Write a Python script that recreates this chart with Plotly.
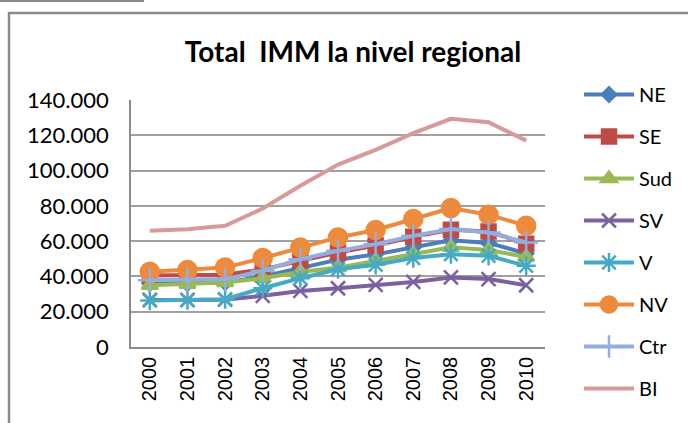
import plotly.graph_objects as go

# Data ---
years = [2000, 2001, 2002, 2003, 2004, 2005, 2006, 2007, 2008, 2009, 2010]
regions = ["NE", "SE", "Sud", "SV", "V", "NV", "Ctr", "BI"]

ne = [36000, 36000, 36500, 40000, 45000, 49500, 52500, 56500, 60500, 59000, 53000]
se = [40500, 40500, 41000, 44000, 49000, 53500, 57500, 62500, 66500, 65500, 58500]
sud = [35000, 35500, 36500, 39000, 42500, 45000, 49000, 52800, 56500, 55000, 51000]
sv = [26700, 26700, 26800, 29000, 31800, 33300, 35200, 36900, 39400, 38500, 35000]
v = [26300, 26500, 27100, 33300, 39000, 44100, 46600, 50400, 52600, 51700, 46000]
nv = [42600, 43600, 45000, 50400, 56400, 62100, 66300, 72500, 78800, 75000, 68700]
ctr = [37900, 38000, 38500, 43200, 49800, 54500, 58300, 63000, 66900, 64900, 59200]
bi = [65900, 66800, 68700, 78500, 91400, 103400, 111700, 121200, 129300, 127400, 117000]
series = [ne, se, sud, sv, v, nv, ctr, bi]

y_ticks = [0, 20000, 40000, 60000, 80000, 100000, 120000, 140000]

# Styles ---
colors = ["#4A7EBB", "#BE4B48", "#98B954", "#7D60A0", "#46AAC5", "#EE8A3C", "#93AEDC", "#D79A98"]
symbols = ["diamond", "square", "triangle-up", "x-thin-open", "asterisk-open",
           "circle", "cross-thin-open", None]
sizes = [11, 14, 14, 14, 16, 18, 17, 0]

W, H = 688, 423
L, R, T, B = 131, 545, 100, 347


def px(x):
    return (x - L) / (R - L)


def py(y):
    return (B - y) / (B - T)


fig = go.Figure()
for name, vals, col, sym, sz in zip(regions, series, colors, symbols, sizes):
    marker = dict(color=col, size=sz, symbol=sym, line=dict(color=col, width=2.5))
    fig.add_trace(go.Scatter(
        x=years, y=vals, name=name, legendgroup=name,
        mode="lines+markers" if sym else "lines",
        line=dict(color=col, width=4),
        marker=marker if sym else None,
    ))

fig.update_xaxes(
    range=[1999.5, 2010.5],
    tickvals=years, ticktext=[str(y) for y in years],
    tickangle=-90,
    tickfont=dict(family="Liberation Sans", size=20, color="#000"),
    showgrid=False, showline=True, linecolor="#8c8c8c", linewidth=1.5,
    ticks="", fixedrange=True,
)
fig.update_yaxes(
    range=[0, 140000],
    tickvals=y_ticks, tickformat=",.0f",
    tickfont=dict(family="Lato", size=22, color="#000"),
    ticklabelstandoff=16,
    showgrid=True, gridcolor="#a0a0a0", gridwidth=1.5,
    showline=True, linecolor="#8c8c8c", linewidth=1.5,
    zeroline=False, ticks="", ticklen=0,
)

frame = "#8a8a8a"
fig.update_layout(
    width=W, height=H,
    margin=dict(l=L, r=W - R, t=T, b=H - B, autoexpand=False),
    paper_bgcolor="white", plot_bgcolor="white",
    separators=",.",
    title=dict(text="<b>Total  IMM la nivel regional</b>", x=353 / W, xanchor="center",
               y=1 - 52 / H, yanchor="middle",
               font=dict(family="Lato", size=28, color="#000")),
    legend=dict(x=px(579), xanchor="left", y=py(75), yanchor="top",
                font=dict(family="Lato", size=20, color="#000"),
                itemwidth=50, tracegroupgap=13, maxheight=1.0,
                bgcolor="rgba(0,0,0,0)"),
    shapes=[
        dict(type="path", xref="paper", yref="paper",
             path=f"M {px(0)},{py(1)} L {px(143)},{py(1)} L {px(143)},{py(-2)}",
             line=dict(color=frame, width=2)),
        dict(type="path", xref="paper", yref="paper",
             path=f"M {px(9)},{py(430)} L {px(9)},{py(13)} L {px(700)},{py(13)}",
             line=dict(color=frame, width=2.5)),
    ],
)

# the page body has a default 8px margin; drop it so the figure sits at 0,0
fig.write_html("out.html", config={"displayModeBar": False},
               post_script="document.body.style.margin='0';")
